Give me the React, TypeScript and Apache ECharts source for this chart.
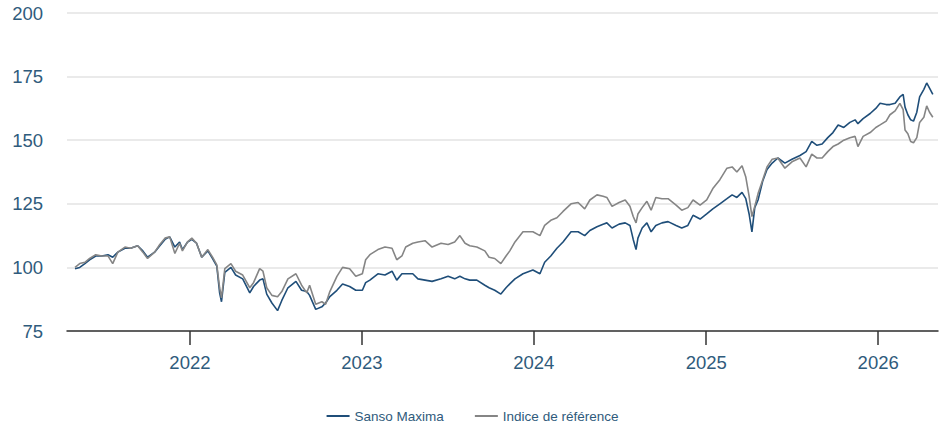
import React, { useEffect, useRef } from "react";
import * as echarts from "echarts";

const dates = [
  "2021-05-02","2021-05-12","2021-05-23","2021-06-02","2021-06-15","2021-06-28","2021-07-11","2021-07-21","2021-08-01","2021-08-16","2021-08-28","2021-09-12","2021-09-23","2021-10-03","2021-10-18","2021-10-29","2021-11-09","2021-11-19","2021-11-30","2021-12-10","2021-12-16","2021-12-27",
  "2022-01-05","2022-01-15","2022-01-26","2022-02-08","2022-02-18","2022-02-27","2022-03-05","2022-03-09","2022-03-16","2022-03-29","2022-04-08","2022-04-23","2022-05-08","2022-05-16","2022-05-29","2022-06-05","2022-06-13","2022-06-24","2022-07-06","2022-07-15","2022-07-28","2022-08-14","2022-08-26","2022-09-06","2022-09-12","2022-09-25","2022-10-08","2022-10-16","2022-10-25","2022-11-09","2022-11-21","2022-12-06","2022-12-19",
  "2023-01-02","2023-01-09","2023-01-18","2023-02-04","2023-02-19","2023-03-06","2023-03-16","2023-03-27","2023-04-04","2023-04-19","2023-04-30","2023-05-15","2023-05-30","2023-06-18","2023-07-03","2023-07-17","2023-07-28","2023-08-08","2023-08-18","2023-09-02","2023-09-19","2023-09-28","2023-10-10","2023-10-23","2023-11-03","2023-11-11","2023-11-22","2023-12-09","2023-12-30",
  "2024-01-14","2024-01-24","2024-02-06","2024-02-19","2024-03-03","2024-03-20","2024-04-04","2024-04-18","2024-04-29","2024-05-14","2024-05-27","2024-06-04","2024-06-15","2024-06-30","2024-07-13","2024-07-23","2024-07-30","2024-08-05","2024-08-09","2024-08-18","2024-08-28","2024-09-06","2024-09-16","2024-09-29","2024-10-12","2024-10-29","2024-11-10","2024-11-23","2024-12-04","2024-12-19",
  "2025-01-02","2025-01-15","2025-01-30","2025-02-14","2025-02-25","2025-03-07","2025-03-18","2025-03-26","2025-04-02","2025-04-08","2025-04-14","2025-04-21","2025-05-01","2025-05-10","2025-05-21","2025-06-02","2025-06-17","2025-07-02","2025-07-19","2025-08-01","2025-08-13","2025-08-24","2025-09-04","2025-09-16","2025-09-27","2025-10-08","2025-10-20","2025-11-02","2025-11-13","2025-11-19","2025-11-30","2025-12-15","2025-12-27",
  "2026-01-05","2026-01-18","2026-01-26","2026-02-06","2026-02-16","2026-02-23","2026-02-27","2026-03-05","2026-03-11","2026-03-17","2026-03-24","2026-03-30","2026-04-08","2026-04-14","2026-04-20","2026-04-27",
];

const sansoMaxima = [
  99.5, 100, 101.5, 103, 104.5, 104.5, 105, 104, 106, 107.5, 107.5, 108.5, 106.5, 104, 106, 108.5, 111, 112, 108, 110, 107, 110,
  111, 109.5, 104, 106.5, 103.5, 100.5, 90, 86.5, 98, 100, 97, 95.5, 90, 92.5, 95, 95.5, 89.5, 86, 83, 87, 92, 94.5, 91, 90.5, 89, 83.5, 84.5, 86, 88.5, 91, 93.5, 92.5, 91,
  91, 94, 95, 97.5, 97, 98.5, 95, 97.5, 97.5, 97.5, 95.5, 95, 94.5, 95.5, 96.5, 95.5, 96.5, 95.5, 95, 95, 93, 92, 91, 89.5, 92, 93.5, 95.5, 97.5, 99,
  97.5, 102, 104.5, 107.5, 110, 114, 114, 112.5, 114.5, 116, 117, 117.5, 115.5, 117, 117.5, 116.5, 111, 107, 111.5, 115.5, 117.5, 114, 116.5, 117.5, 118, 116.5, 115.5, 116.5, 120.5, 119,
  121, 123, 125, 127, 128.5, 127.5, 129.5, 127, 121, 114, 123.5, 126.5, 134, 138.5, 141, 143, 141, 142.5, 144, 145.5, 149.5, 148, 148.5, 151, 153, 156, 155, 157, 158, 156.5, 158.5, 160.5, 162.5,
  164.5, 164, 164, 164.5, 167, 168, 163, 160, 158, 157.5, 161, 167, 170, 172.5, 170.5, 168,
];

const indiceReference = [
  100, 101.5, 102, 103.5, 105, 104.5, 104.5, 101.5, 106, 108, 107.5, 108.5, 106, 103.5, 106, 109, 111.5, 112, 105.5, 109.5, 106.5, 110,
  111.5, 109.5, 104, 107, 104, 101, 92, 88, 99.5, 101.5, 98.5, 97, 92, 94, 99.5, 98.5, 92, 89, 88.5, 90.5, 95.5, 97.5, 93, 90, 93, 85.5, 86.5, 85.5, 90.5, 96.5, 100, 99.5, 96.5,
  97.5, 103, 105, 107, 108, 107.5, 103, 104.5, 108, 109.5, 110, 110.5, 108, 109.5, 109, 110, 112.5, 109.5, 108.5, 108, 106.5, 104, 103.5, 101.5, 104.5, 106.5, 110, 114, 114,
  112.5, 116.5, 118.5, 119.5, 122, 125, 125.5, 123, 126.5, 128.5, 128, 127.5, 124, 125.5, 126.5, 124, 120, 117.5, 121, 123.5, 126, 122.5, 127.5, 127, 127, 124.5, 122.5, 123.5, 126.5, 124.5,
  126.5, 131, 134.5, 139, 139.5, 137.5, 140, 135.5, 128, 120, 124, 129, 134.5, 139.5, 142.5, 143, 139, 141.5, 143, 139.5, 144.5, 143, 143, 145.5, 147.5, 148.5, 150, 151, 151.5, 147.5, 151.5, 153, 155,
  156, 157.5, 160, 161.5, 164.5, 162, 154, 152.5, 149.5, 149, 151, 157, 159, 163.5, 161, 159,
];

const yearTicks = ["2022-01-01", "2023-01-01", "2024-01-01", "2025-01-01", "2026-01-01"];
const seriesNames = ["Sanso Maxima", "Indice de référence"];

const FONT = "'Liberation Sans', Arial, sans-serif";
const LABEL_COLOR = "#2f5b7c";

export default function App() {
  const ref = useRef<HTMLDivElement>(null);

  useEffect(() => {
    if (!ref.current) return;
    const chart = echarts.init(ref.current, null, { renderer: "svg" });
    const toTime = (d: string) => new Date(d + "T00:00:00Z").getTime();
    const tickValues = yearTicks.map(toTime);
    const fundData = dates.map((d, i) => [toTime(d), sansoMaxima[i]]);
    const indexData = dates.map((d, i) => [toTime(d), indiceReference[i]]);

    chart.setOption({
      animation: false,
      backgroundColor: "#ffffff",
      textStyle: { fontFamily: FONT },
      grid: { left: 67, right: 7, top: 13, bottom: 94, containLabel: false },
      legend: {
        top: 404,
        left: "center",
        icon: "rect",
        itemWidth: 23,
        itemHeight: 2,
        itemGap: 31,
        textStyle: { color: LABEL_COLOR, fontSize: 13.5, fontFamily: FONT },
        data: seriesNames,
      },
      xAxis: {
        type: "value",
        min: toTime("2021-04-15"),
        max: toTime("2026-05-08"),
        axisLine: { show: true, lineStyle: { color: "#333333", width: 1.5 } },
        axisTick: {
          show: true,
          length: 14,
          customValues: tickValues,
          lineStyle: { color: "#333333", width: 1.5 },
        },
        axisLabel: {
          customValues: tickValues,
          margin: 22,
          fontSize: 18.5,
          color: LABEL_COLOR,
          fontFamily: FONT,
          formatter: (v: number) => String(new Date(v).getUTCFullYear()),
        },
        splitLine: { show: false },
      },
      yAxis: {
        type: "value",
        min: 75,
        max: 200,
        interval: 25,
        axisLine: { show: false },
        axisTick: { show: false },
        axisLabel: { fontSize: 18.5, color: LABEL_COLOR, margin: 24, fontFamily: FONT },
        splitLine: { lineStyle: { color: "#e3e3e3", width: 1.5 } },
      },
      series: [
        {
          name: seriesNames[0],
          type: "line",
          data: fundData,
          showSymbol: false,
          symbol: "none",
          lineStyle: { color: "#1f4e79", width: 1.6 },
          itemStyle: { color: "#1f4e79" },
        },
        {
          name: seriesNames[1],
          type: "line",
          data: indexData,
          showSymbol: false,
          symbol: "none",
          lineStyle: { color: "#858585", width: 1.6 },
          itemStyle: { color: "#858585" },
        },
      ],
    });
    return () => chart.dispose();
  }, []);

  return (
    <div
      ref={ref}
      style={{ position: "fixed", left: 0, top: 0, width: 945, height: 425 }}
    />
  );
}
